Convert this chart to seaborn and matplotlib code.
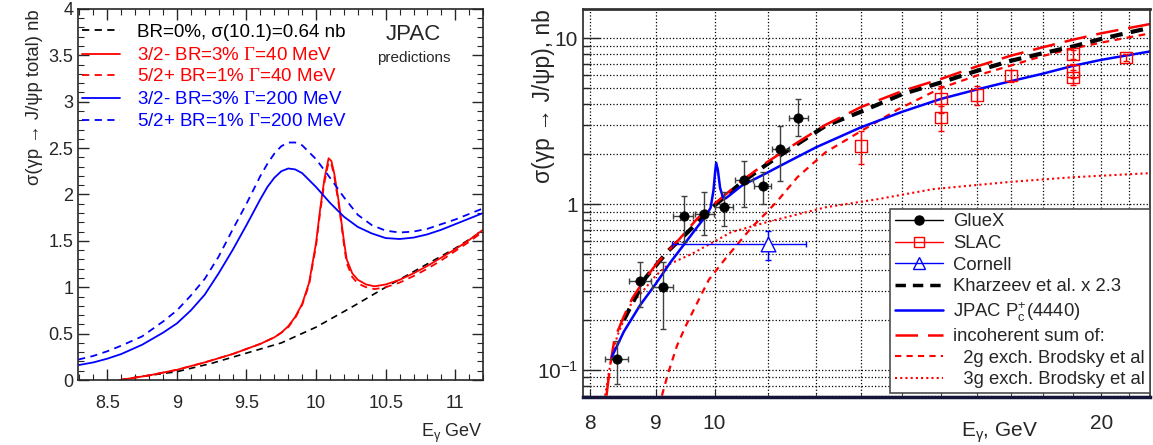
import numpy as np
import pandas as pd
import seaborn as sns
import matplotlib
matplotlib.use("Agg")
import matplotlib.pyplot as plt
from matplotlib.lines import Line2D
from matplotlib.ticker import FixedLocator, FixedFormatter, NullFormatter, MultipleLocator

# ---------------- left panel: JPAC predictions near threshold ----------------
E_bg = [8.59, 8.75, 9.0, 9.25, 9.5, 9.75, 10.0, 10.25, 10.5, 10.75, 11.0, 11.2]
s_bg = [0.0, 0.04, 0.09, 0.18, 0.29, 0.40, 0.57, 0.78, 1.0, 1.21, 1.42, 1.61]

E_red = [8.59, 8.8, 9.0, 9.2, 9.4, 9.6, 9.7, 9.75, 9.8, 9.85, 9.9, 9.95, 10.0, 10.03,
         10.06, 10.09, 10.11, 10.13, 10.16, 10.18, 10.2, 10.22, 10.26, 10.3, 10.36,
         10.42, 10.5, 10.6, 10.7, 10.8, 10.9, 11.0, 11.1, 11.2]
s_red_32 = [0.0, 0.05, 0.11, 0.19, 0.28, 0.39, 0.46, 0.51, 0.58, 0.68, 0.82, 1.05, 1.48, 1.85,
            2.17, 2.39, 2.36, 2.23, 1.95, 1.73, 1.50, 1.30, 1.15, 1.08, 1.03,
            1.01, 1.03, 1.08, 1.15, 1.23, 1.32, 1.41, 1.51, 1.62]
s_red_52 = [0.0, 0.05, 0.11, 0.19, 0.28, 0.39, 0.46, 0.51, 0.57, 0.67, 0.81, 1.03, 1.45, 1.82,
            2.13, 2.35, 2.33, 2.20, 1.92, 1.70, 1.46, 1.26, 1.11, 1.04, 1.0,
            0.98, 1.0, 1.05, 1.12, 1.2, 1.29, 1.39, 1.49, 1.60]

E_blue = [8.29, 8.4, 8.5, 8.6, 8.75, 8.9, 9.0, 9.1, 9.2, 9.3, 9.4, 9.5, 9.6, 9.65, 9.7,
          9.75, 9.8, 9.85, 9.9, 10.0, 10.1, 10.2, 10.3, 10.4, 10.5, 10.6, 10.7, 10.8,
          10.9, 11.0, 11.1, 11.2]
s_blue_32 = [0.16, 0.19, 0.23, 0.28, 0.38, 0.51, 0.61, 0.75, 0.92, 1.15, 1.40, 1.67, 1.95,
             2.08, 2.18, 2.25, 2.28, 2.27, 2.23, 2.08, 1.91, 1.76, 1.65, 1.58, 1.53, 1.52,
             1.535, 1.57, 1.62, 1.68, 1.74, 1.80]
s_blue_52 = [0.22, 0.26, 0.31, 0.37, 0.47, 0.63, 0.75, 0.91, 1.09, 1.33, 1.62, 1.90, 2.20,
             2.33, 2.44, 2.52, 2.56, 2.56, 2.53, 2.38, 2.18, 1.97, 1.78, 1.67, 1.61, 1.59,
             1.60, 1.63, 1.68, 1.73, 1.79, 1.85]

left_labels = ["BR=0%, σ(10.1)=0.64 nb",
               "3/2- BR=3% $\\mathsf{\\Gamma}$=40 MeV",
               "5/2+ BR=1% $\\mathsf{\\Gamma}$=40 MeV",
               "3/2- BR=3% $\\mathsf{\\Gamma}$=200 MeV",
               "5/2+ BR=1% $\\mathsf{\\Gamma}$=200 MeV"]

# ---------------- right panel: world data and models ----------------
gx_E = [8.39, 8.75, 9.11, 9.46, 9.82, 10.17, 10.54, 10.9, 11.25, 11.62]
gx_s = [0.116, 0.345, 0.315, 0.843, 0.87, 0.955, 1.39, 1.28, 2.16, 3.28]
gx_lo = [0.034, 0.105, 0.139, 0.25, 0.22, 0.215, 0.43, 0.28, 0.78, 0.70]
gx_hi = [0.033, 0.105, 0.135, 0.28, 0.31, 0.225, 0.42, 0.28, 0.80, 1.01]
gx_dE = [0.17, 0.17, 0.17, 0.17, 0.17, 0.17, 0.17, 0.17, 0.17, 0.2]

slac_E = [13.0, 15.0, 15.0, 16.0, 17.0, 19.0, 19.0, 19.0, 20.9]
slac_s = [2.24, 4.33, 3.33, 4.53, 5.94, 8.0, 6.36, 5.8, 7.64]
slac_err = [0.5, 0.8, 0.57, 0.6, 0.5, 0.5, 0.6, 0.6, 0.35]

cor_E = [11.0]
cor_s = [0.574]
cor_dE_lo = [1.74]
cor_dE_hi = [0.79]
cor_err = [0.115]

kh_E = [8.5, 8.84, 9.2, 9.5, 10.0, 10.5, 11.0, 11.5, 12.2, 13.0, 14.0, 15.0, 16.0, 17.0,
        18.0, 19.0, 20.0, 21.0, 22.0]
kh_s = [0.2, 0.36, 0.52, 0.66, 0.98, 1.35, 1.75, 2.2, 2.96, 3.6, 4.6, 5.4, 6.35, 7.3,
        8.1, 8.9, 9.9, 10.8, 11.7]

jp_E = [8.32, 8.5, 8.75, 9.0, 9.25, 9.5, 9.7, 9.85, 9.93, 9.98, 10.01, 10.03, 10.06,
        10.1, 10.15, 10.2, 10.5, 11.0, 11.25, 12.0, 13.0, 14.0, 15.0, 16.0, 17.0, 18.0,
        19.0, 20.0, 21.0, 22.0]
jp_s = [0.12, 0.17, 0.245, 0.33, 0.45, 0.59, 0.73, 0.85, 0.95, 1.2, 1.55, 1.77, 1.6,
        1.25, 1.1, 1.08, 1.29, 1.55, 1.70, 2.2, 2.9, 3.6, 4.3, 4.9, 5.5, 6.1,
        6.8, 7.4, 7.9, 8.4]

sum_E = [8.24, 8.3, 8.36, 8.5, 8.63, 8.8, 9.0, 9.2, 9.39, 9.7, 10.1, 10.5, 11.0, 11.5,
         12.2, 13.0, 14.0, 15.0, 16.0, 17.0, 18.0, 19.0, 20.0, 21.0, 22.0]
sum_s = [0.07, 0.11, 0.154, 0.21, 0.27, 0.34, 0.43, 0.52, 0.615, 0.82, 1.07, 1.38, 1.8,
         2.25, 3.0, 3.84, 4.8, 5.67, 6.75, 7.83, 8.8, 9.78, 10.7, 11.5, 12.3]

g2_E = [9.1, 9.2, 9.35, 9.5, 9.66, 9.8, 9.9, 10.2, 10.45, 10.7, 10.98, 11.2, 11.6, 12.2,
        13.0, 13.9, 15.0, 16.0, 17.0, 18.0, 19.0, 20.0, 21.0, 22.0]
g2_s = [0.07, 0.095, 0.14, 0.185, 0.24, 0.3, 0.35, 0.47, 0.588, 0.73, 0.891, 1.05, 1.45,
        2.05, 2.75, 3.73, 5.0, 5.95, 6.83, 7.8, 8.66, 9.4, 10.1, 10.8]

g3_E = [8.22, 8.3, 8.4, 8.5, 8.6, 8.8, 9.0, 9.2, 9.6, 10.3, 11.0, 12.2, 13.4, 14.8, 17.0,
        19.0, 22.0]
g3_s = [0.07, 0.11, 0.16, 0.2, 0.245, 0.30, 0.37, 0.43, 0.50, 0.675, 0.78, 0.955, 1.07,
        1.23, 1.36, 1.45, 1.54]

RED = "#ff0000"
BLUE = "#0000ff"

sns.set_style("ticks")
plt.rcParams['font.family'] = ['Liberation Sans', 'DejaVu Sans']
plt.rcParams['mathtext.fontset'] = 'custom'
plt.rcParams['mathtext.rm'] = 'Liberation Sans'
plt.rcParams['mathtext.it'] = 'Liberation Sans:italic'
plt.rcParams['mathtext.sf'] = 'Liberation Serif'

fig = plt.figure(figsize=(11.53, 4.45), dpi=100)
ax1 = fig.add_axes([0.0677, 0.146, 0.3513, 0.834])
ax2 = fig.add_axes([0.5056, 0.108, 0.4914, 0.872])

# ---- left ----
left_styles = [("black", (0, (4, 3))), (RED, "-"), (RED, (0, (4, 3))),
               (BLUE, "-"), (BLUE, (0, (4, 3)))]
sns.lineplot(x=E_bg, y=s_bg, ax=ax1, color="black", lw=1.2, linestyle=(0, (4, 3)),
             sort=False, estimator=None)
sns.lineplot(x=E_red, y=s_red_32, ax=ax1, color=RED, lw=1.3, sort=False, estimator=None)
sns.lineplot(x=E_red, y=s_red_52, ax=ax1, color=RED, lw=1.3, linestyle=(0, (4, 3)),
             sort=False, estimator=None)
sns.lineplot(x=E_blue, y=s_blue_32, ax=ax1, color=BLUE, lw=1.3, sort=False, estimator=None)
sns.lineplot(x=E_blue, y=s_blue_52, ax=ax1, color=BLUE, lw=1.3, linestyle=(0, (4, 3)),
             sort=False, estimator=None)

# legend rows (ROOT-style TLegend without a box)
row_y = [0.943, 0.879, 0.822, 0.760, 0.701]
for (col, ls), txt, yy in zip(left_styles, left_labels, row_y):
    ax1.add_line(Line2D([0.01, 0.104], [yy, yy], transform=ax1.transAxes, color=col,
                        lw=1.3, linestyle=ls))
    ax1.text(0.146, yy, txt, transform=ax1.transAxes, color=col, fontsize=13.5,
             va='center_baseline', ha='left')

ax1.set_xlim(8.29, 11.2)
ax1.set_ylim(0, 4)
ax1.xaxis.set_major_locator(MultipleLocator(0.5))
ax1.xaxis.set_minor_locator(MultipleLocator(0.1))
ax1.yaxis.set_major_locator(MultipleLocator(0.5))
ax1.yaxis.set_minor_locator(MultipleLocator(0.1))
ax1.xaxis.set_major_formatter(matplotlib.ticker.FuncFormatter(lambda v, p: f"{v:g}"))
ax1.yaxis.set_major_formatter(matplotlib.ticker.FuncFormatter(lambda v, p: f"{v:g}"))
ax1.tick_params(which='both', direction='in', top=True, right=True, labelsize=13)
ax1.tick_params(which='major', length=8, width=1)
ax1.tick_params(which='minor', length=4, width=0.8)
ax1.tick_params(axis='x', pad=11)
for sp in ax1.spines.values():
    sp.set_linewidth(1.2)
ax1.set_ylabel("σ(γp → J/ψp total) nb", fontsize=13.3, loc='top')
ax1.set_xlabel(r"E$_{\mathrm{\gamma}}$ GeV", fontsize=13, loc='right', labelpad=7)
ax1.text(0.827, 0.93, "JPAC", transform=ax1.transAxes, fontsize=16, ha='center', va='center')
ax1.text(0.83, 0.868, "predictions", transform=ax1.transAxes, fontsize=11, ha='center',
         va='center')

# ---- right ----
ax2.set_xscale('log')
ax2.set_yscale('log')
sns.lineplot(x=g3_E, y=g3_s, ax=ax2, color=RED, lw=1.5, linestyle=(0, (1, 1.5)),
             sort=False, estimator=None)
sns.lineplot(x=g2_E, y=g2_s, ax=ax2, color=RED, lw=1.6, linestyle=(0, (3, 2.5)),
             sort=False, estimator=None)
sns.lineplot(x=kh_E, y=kh_s, ax=ax2, color="black", lw=3.0, linestyle=(0, (3, 2)),
             sort=False, estimator=None)
sns.lineplot(x=sum_E, y=sum_s, ax=ax2, color=RED, lw=1.8, linestyle=(0, (9, 4)),
             sort=False, estimator=None)
sns.lineplot(x=jp_E, y=jp_s, ax=ax2, color=BLUE, lw=1.8, sort=False, estimator=None)

ax2.errorbar(gx_E, gx_s, xerr=gx_dE, yerr=[gx_lo, gx_hi], fmt='none', ecolor='0.25',
             elinewidth=1.0, capsize=2, zorder=4)
sns.scatterplot(x=gx_E, y=gx_s, ax=ax2, color='black', s=45, marker='o', edgecolor='black',
                zorder=5)
ax2.errorbar(slac_E, slac_s, yerr=slac_err, fmt='none', ecolor=RED, elinewidth=1.0,
             capsize=2, zorder=4)
sns.scatterplot(x=slac_E, y=slac_s, ax=ax2, marker='s', s=70, facecolor='none',
                edgecolor=RED, linewidth=1.0, zorder=5)
ax2.errorbar(cor_E, cor_s, xerr=[cor_dE_lo, cor_dE_hi], yerr=cor_err, fmt='none',
             ecolor=BLUE, elinewidth=1.0, capsize=2, zorder=4)
sns.scatterplot(x=cor_E, y=cor_s, ax=ax2, marker='^', s=110, facecolor='white',
                edgecolor=BLUE, linewidth=1.0, zorder=5)

ax2.set_xlim(7.9, 21.8)
ax2.set_ylim(0.0687, 15)
ax2.xaxis.set_major_locator(FixedLocator([8, 9, 10, 20]))
ax2.xaxis.set_major_formatter(FixedFormatter(["8", "9", "10", "20"]))
ax2.xaxis.set_minor_locator(FixedLocator([11, 12, 13, 14, 15, 16, 17, 18, 19, 21]))
ax2.xaxis.set_minor_formatter(NullFormatter())
ax2.yaxis.set_major_locator(FixedLocator([0.1, 1, 10]))
ax2.yaxis.set_major_formatter(FixedFormatter([r"$10^{-1}$", "1", "10"]))
ax2.yaxis.set_minor_locator(FixedLocator([k * d for d in (0.01, 0.1, 1, 10) for k in range(2, 10)]))
ax2.yaxis.set_minor_formatter(NullFormatter())
ax2.grid(True, which='both', ls=':', color='black', lw=0.9)
ax2.tick_params(which='both', direction='in', labelsize=15)
ax2.tick_params(axis='y', which='major', length=12, width=1)
ax2.tick_params(axis='y', which='minor', length=6, width=1)
ax2.tick_params(axis='x', which='major', length=6, pad=12)
ax2.tick_params(axis='x', which='minor', length=3)
ax2.spines['bottom'].set_linewidth(2.5)
ax2.spines['bottom'].set_color('#15153a')
ax2.spines['top'].set_linewidth(2.0)
ax2.spines['top'].set_color('#333333')
ax2.spines['left'].set_linewidth(1.2)
ax2.spines['right'].set_linewidth(1.2)
ax2.set_ylabel("σ(γp → J/ψp), nb", fontsize=16.5, loc='top')
ax2.yaxis.set_label_coords(-0.05, 1.0)
ax2.set_xlabel(r"E$_{\mathrm{\gamma}}$, GeV", fontsize=15)
ax2.xaxis.set_label_coords(0.735, -0.06)

handles = [
    Line2D([], [], color='black', lw=1, marker='o', ms=6.5),
    Line2D([], [], color=RED, lw=1, marker='s', ms=7.5, mfc='none'),
    Line2D([], [], color=BLUE, lw=1, marker='^', ms=9, mfc='none'),
    Line2D([], [], color='black', lw=2.5, linestyle=(0, (3, 2))),
    Line2D([], [], color=BLUE, lw=1.8),
    Line2D([], [], color=RED, lw=1.8, linestyle=(0, (9, 4))),
    Line2D([], [], color=RED, lw=1.5, linestyle=(0, (3, 2.5))),
    Line2D([], [], color=RED, lw=1.5, linestyle=(0, (1, 1.5))),
]
labels = ["GlueX", "SLAC", "Cornell", "Kharzeev et al. x 2.3",
          r"JPAC P$_{\mathrm{c}}^{+}$(4440)", "incoherent sum of:",
          "  2g exch. Brodsky et al", "  3g exch. Brodsky et al"]
leg2 = ax2.legend(handles, labels, loc='lower right', bbox_to_anchor=(1.0, 0.01),
                  fontsize=13.3, handlelength=2.6, handletextpad=0.55, labelspacing=0.25,
                  fancybox=False, framealpha=1, edgecolor='0.3', borderpad=0.25,
                  borderaxespad=0.0)
leg2.get_frame().set_linewidth(1.2)

fig.savefig("out.png", dpi=100)
